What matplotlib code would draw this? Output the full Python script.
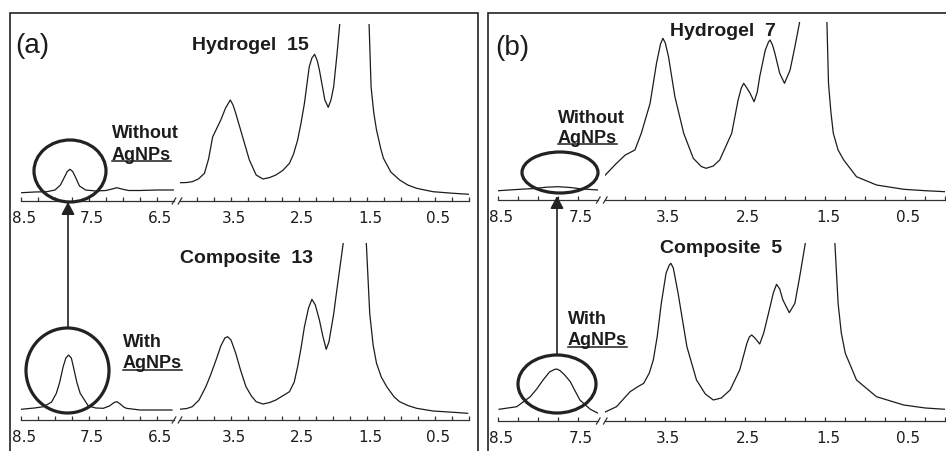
import matplotlib
matplotlib.use("Agg")
import matplotlib.pyplot as plt
from matplotlib.patches import Rectangle, Ellipse, FancyArrowPatch
from matplotlib.lines import Line2D
from matplotlib.transforms import ScaledTranslation

# ---- spectra (ppm, intensity in arbitrary units) ----
hyd15_left_ppm = [8.49, 8.30, 8.12, 8.00, 7.92, 7.86, 7.82, 7.78, 7.74, 7.70, 7.64, 7.55, 7.40,
                  7.25, 7.16, 7.09, 7.02, 6.92, 6.75, 6.50, 6.26]
hyd15_left_int = [8.3, 9.0, 9.3, 11, 16, 24, 29.5, 31.7, 29.5, 24, 15, 11, 10,
                  10.5, 12, 13.3, 12, 10.5, 10.5, 11, 11]
hyd15_right_ppm = [4.24, 4.15, 4.07, 3.98, 3.89, 3.83, 3.77, 3.70, 3.65, 3.58, 3.51, 3.47, 3.43,
                   3.33, 3.23, 3.13, 3.03, 2.93, 2.84, 2.74, 2.64, 2.58, 2.52, 2.47, 2.42, 2.35,
                   2.31, 2.27, 2.23, 2.20, 2.12, 2.07, 2.03, 1.99, 1.94, 1.90, 1.82, 1.72, 1.65,
                   1.58, 1.52, 1.47, 1.44, 1.40, 1.36, 1.30, 1.26, 1.15, 1.02, 0.90, 0.77, 0.53,
                   0.25, 0.0]
hyd15_right_int = [18.3, 18.5, 19.3, 22, 27.7, 42, 64, 74, 81, 93, 101, 96, 87.7,
                   64.3, 41, 26, 22, 23.5, 26, 30.5, 37.7, 47, 61, 78, 97.7, 134,
                   143, 146.7, 140, 131, 101, 93.7, 101, 114.3, 147.7, 177.7, 270, 380, 420,
                   330, 230, 178, 114, 88, 71, 53, 43, 29, 21, 16, 12.7, 9.3,
                   7.8, 6.7]

comp13_left_ppm = [8.50, 8.30, 8.17, 8.05, 7.98, 7.93, 7.88, 7.84, 7.80, 7.76, 7.73, 7.68, 7.63,
                   7.51, 7.40, 7.29, 7.20, 7.13, 7.09, 7.05, 6.99, 6.95, 6.75, 6.50, 6.28]
comp13_left_int = [10.7, 12, 13.3, 18, 26.7, 38, 53.3, 62, 65, 62, 53.3, 38, 26.7,
                   14, 12, 11.7, 14, 17.5, 18.3, 16.5, 13, 11.7, 10, 10, 10]
comp13_right_ppm = [4.26, 4.15, 4.07, 3.97, 3.87, 3.80, 3.72, 3.65, 3.59, 3.55, 3.50, 3.43, 3.36,
                    3.28, 3.20, 3.13, 3.03, 2.93, 2.84, 2.64, 2.57, 2.52, 2.47, 2.42, 2.36, 2.31,
                    2.26, 2.20, 2.15, 2.10, 2.06, 2.03, 1.99, 1.95, 1.85, 1.78, 1.70, 1.62, 1.56,
                    1.51, 1.46, 1.41, 1.36, 1.29, 1.21, 1.10, 1.02, 0.90, 0.77, 0.53, 0.25, 0.02]
comp13_right_int = [10.7, 11.5, 13.3, 20, 33.3, 45, 60, 74, 82, 83.3, 80, 66.7, 50,
                    33.3, 24, 18.3, 16, 17.5, 20, 28.3, 38, 53.3, 72, 93.3, 112, 120.7,
                    115, 100, 84, 70.7, 78, 90, 106, 126.7, 176.7, 260, 360, 390, 300,
                    176.7, 106.7, 75, 56.7, 43, 33.3, 23, 18.3, 14.5, 11.7, 9, 7.8, 6.7]

hyd7_left_ppm = [8.50, 8.23, 8.05, 7.90, 7.75, 7.60, 7.48, 7.35, 7.25]
hyd7_left_int = [9.3, 10.7, 11.5, 12.8, 13.3, 12.5, 11.3, 10.5, 10]
hyd7_right_ppm = [4.25, 4.11, 4.00, 3.88, 3.80, 3.69, 3.61, 3.56, 3.53, 3.50, 3.46, 3.38, 3.27,
                  3.15, 3.05, 2.99, 2.90, 2.82, 2.67, 2.59, 2.55, 2.52, 2.48, 2.44, 2.39, 2.35,
                  2.32, 2.25, 2.21, 2.19, 2.16, 2.13, 2.07, 2.01, 1.94, 1.88, 1.82, 1.75, 1.68,
                  1.60, 1.52, 1.48, 1.46, 1.43, 1.40, 1.34, 1.27, 1.11, 0.86, 0.52, 0.25, 0.0]
hyd7_right_int = [25, 36.7, 45, 50, 66.7, 96.7, 136.7, 156, 161.7, 157, 143.3, 103.3, 66.7,
                  41.7, 33.5, 31.7, 34, 40, 66.7, 100, 112, 116.7, 112, 106.7, 98.3, 108,
                  123.3, 150, 158, 160, 155, 146.7, 126.7, 116.7, 130, 153.3, 178.3, 270, 360,
                  380, 260, 178.3, 116.7, 88, 66.7, 50, 40, 23.3, 15, 10.7, 9.3, 8.3]

comp5_left_ppm = [8.49, 8.27, 8.10, 8.02, 7.94, 7.86, 7.80, 7.77, 7.73, 7.67, 7.60, 7.54, 7.48,
                  7.35, 7.25]
comp5_left_int = [11.7, 14.3, 24.3, 32, 41, 49, 51.5, 52, 50.5, 46, 39.3, 30, 21, 11.7, 7.7]
comp5_right_ppm = [4.27, 4.11, 3.94, 3.85, 3.77, 3.70, 3.65, 3.60, 3.55, 3.49, 3.45, 3.43, 3.40,
                   3.34, 3.23, 3.11, 3.00, 2.90, 2.80, 2.69, 2.57, 2.48, 2.45, 2.42, 2.38, 2.32,
                   2.27, 2.21, 2.15, 2.11, 2.07, 2.03, 1.95, 1.88, 1.82, 1.75, 1.68, 1.60, 1.52,
                   1.45, 1.38, 1.34, 1.30, 1.25, 1.11, 0.86, 0.52, 0.25, 0.0]
comp5_right_int = [8.3, 14.3, 29.3, 34, 37.7, 48, 61, 85, 117.7, 148, 156, 157.7, 153,
                   127.7, 74.3, 41, 27, 21, 23, 31, 51, 77.7, 84, 86, 83, 77,
                   88, 107.7, 128, 136.7, 132, 121, 108.3, 117.7, 144.3, 177.7, 260, 340, 350,
                   280, 177.7, 117.7, 88, 67.7, 41, 24.3, 16, 13, 11.7]

left_labels_a = [8.5, 7.5, 6.5]
left_labels_b = [8.5, 7.5]
right_labels = [3.5, 2.5, 1.5, 0.5]

W, H = 946, 451
fig = plt.figure(figsize=(W / 100, H / 100), dpi=100)
INK = "#1c1c1c"


def fx(x):
    return x / W


def fy(y):
    return 1 - y / H


def seg(x0, x1, ytop, ybase, xlim, labels, minor):
    ax = fig.add_axes([fx(x0), fy(ybase), (x1 - x0) / W, (ybase - ytop) / H])
    ax.set_facecolor("none")
    ax.set_xlim(*xlim)
    ax.set_ylim(0, ybase - ytop)
    for s in ("top", "left", "right"):
        ax.spines[s].set_visible(False)
    ax.spines["bottom"].set_linewidth(0.9)
    ax.spines["bottom"].set_color("#333333")
    ax.set_yticks([])
    ax.set_xticks(labels)
    ax.set_xticklabels([f"{v:.1f}" for v in labels])
    ax.set_xticks(minor, minor=True)
    ax.tick_params(axis="x", which="both", direction="in", length=3.2, width=0.9,
                   color="#333333", pad=7.5, labelsize=11, labelcolor=INK)
    shift = ScaledTranslation(3 / 100, 0, fig.dpi_scale_trans)
    for lab in ax.get_xticklabels():
        lab.set_transform(lab.get_transform() + shift)
    return ax


def spectrum(ybase, ytop, xs, data):
    (l0, l1, r0, r1), (llim, rlim), lab_left = xs
    lp, li, rp, ri = data
    minor_l = [v / 100 for v in range(int(llim[0] * 100), int(llim[1] * 100) - 1, -25)]
    minor_r = [v / 100 for v in range(int(rlim[0] * 100), int(rlim[1] * 100) - 1, -25)]
    axl = seg(l0, l1, ytop, ybase, llim, lab_left, minor_l[:-1])
    axr = seg(r0, r1, ytop, ybase, rlim, right_labels, minor_r[1:])
    axl.plot(lp, li, color=INK, lw=0.9)
    axr.plot(rp, ri, color=INK, lw=0.9)
    for xe in (l1, r0):
        fig.add_artist(Line2D([fx(xe - 1.8), fx(xe + 1.8)], [fy(ybase + 3), fy(ybase - 3)],
                              color="#333333", lw=0.9))


xa = ((21, 174, 180, 469), ((8.5, 6.25), (4.25, 0.0)), left_labels_a)
xb = ((498.3, 598.3, 605.3, 945.3), ((8.5, 7.25), (4.25, 0.0)), left_labels_b)

spectrum(201, 24, xa, (hyd15_left_ppm, hyd15_left_int, hyd15_right_ppm, hyd15_right_int))
spectrum(420, 243, xa, (comp13_left_ppm, comp13_left_int, comp13_right_ppm, comp13_right_int))
spectrum(200, 22, xb, (hyd7_left_ppm, hyd7_left_int, hyd7_right_ppm, hyd7_right_int))
spectrum(421, 243, xb, (comp5_left_ppm, comp5_left_int, comp5_right_ppm, comp5_right_int))

# panel frames
fig.add_artist(Rectangle((fx(10), fy(460)), (478 - 10) / W, (460 - 13) / H,
                         transform=fig.transFigure, fill=False, ec="#222222", lw=1.2))
fig.add_artist(Rectangle((fx(488), fy(460)), (960 - 488) / W, (460 - 13) / H,
                         transform=fig.transFigure, fill=False, ec="#222222", lw=1.2))

# circles around the aromatic peak
for cx, cy, w, h in [(70, 171, 72, 62), (67.5, 370.5, 83, 85),
                     (560, 172.5, 76, 41), (557, 384, 78, 58)]:
    fig.add_artist(Ellipse((fx(cx), fy(cy)), w / W, h / H, transform=fig.transFigure,
                           fill=False, ec="#222222", lw=2.3))

# arrows
for x, y0, y1 in [(68, 328, 202), (557, 355, 196)]:
    fig.add_artist(FancyArrowPatch((fx(x), fy(y0)), (fx(x), fy(y1)), transform=fig.transFigure,
                                   arrowstyle="-|>,head_length=0.75,head_width=0.4",
                                   mutation_scale=10, lw=1.2, color="#222222",
                                   shrinkA=0, shrinkB=0))

bold = dict(family="Liberation Sans", weight="bold", color=INK, va="baseline", ha="left")
fig.text(fx(15), fy(53), "(a)", family="Liberation Sans", fontsize=20, color=INK, va="baseline")
fig.text(fx(495), fy(55), "(b)", family="Liberation Sans", fontsize=20, color=INK, va="baseline")
fig.text(fx(192), fy(50), "Hydrogel  15", fontsize=14, **bold)
fig.text(fx(180), fy(262.7), "Composite  13", fontsize=14, **bold)
fig.text(fx(670), fy(36), "Hydrogel  7", fontsize=14, **bold)
fig.text(fx(660), fy(253), "Composite  5", fontsize=14, **bold)

under = []
for x, y1, y2, word in [(112, 138.3, 159.7, "Without"), (123, 346.7, 368, "With"),
                        (558, 122.7, 142.7, "Without"), (568, 324, 345, "With")]:
    fig.text(fx(x), fy(y1), word, fontsize=13, **bold)
    under.append((fig.text(fx(x), fy(y2), "AgNPs", fontsize=13, **bold), y2))

fig.canvas.draw()
r = fig.canvas.get_renderer()
for t, yb in under:
    bb = t.get_window_extent(r)
    fig.add_artist(Line2D([bb.x0 / W, bb.x1 / W], [fy(yb + 1.5), fy(yb + 1.5)],
                          color=INK, lw=1.1))

fig.savefig("out.png", dpi=100)
